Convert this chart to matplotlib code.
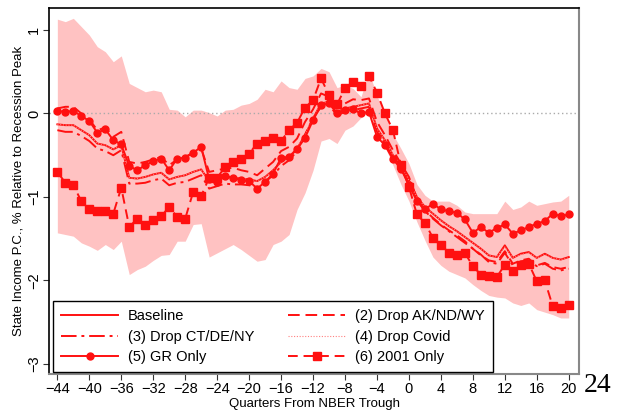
import numpy as np
import matplotlib
matplotlib.use('Agg')
import matplotlib.pyplot as plt

plt.rcParams['font.family'] = ['Liberation Sans', 'DejaVu Sans']

quarters = list(range(-44, 21))

# event-study estimates, quarters -44 .. 20
baseline = [-0.13, -0.14, -0.14, -0.20, -0.26, -0.36, -0.38, -0.43, -0.38, -0.77,
            -0.78, -0.76, -0.73, -0.71, -0.79, -0.76, -0.74, -0.70, -0.67, -0.81,
            -0.78, -0.76, -0.77, -0.78, -0.79, -0.81, -0.76, -0.68, -0.58, -0.52,
            -0.42, -0.26, -0.06, 0.12, 0.14, 0.02, 0.06, 0.08, 0.10, 0.12,
            -0.18, -0.32, -0.50, -0.62, -0.80, -1.00, -1.12, -1.20, -1.28, -1.35,
            -1.41, -1.48, -1.55, -1.62, -1.70, -1.72, -1.58, -1.73, -1.68, -1.66,
            -1.73, -1.68, -1.73, -1.75, -1.72]
drop_ak = [0.06, 0.08, 0.08, 0.00, -0.07, -0.20, -0.17, -0.28, -0.22, -0.58,
           -0.60, -0.58, -0.55, -0.52, -0.62, -0.55, -0.52, -0.47, -0.42, -0.70,
           -0.68, -0.66, -0.65, -0.68, -0.70, -0.74, -0.66, -0.58, -0.45, -0.40,
           -0.30, -0.10, 0.05, 0.24, 0.20, 0.08, 0.12, 0.17, 0.16, 0.18,
           -0.10, -0.26, -0.44, -0.60, -0.76, -1.02, -1.16, -1.25, -1.33, -1.40,
           -1.46, -1.53, -1.62, -1.70, -1.76, -1.78, -1.65, -1.80, -1.76, -1.74,
           -1.82, -1.79, -1.84, -1.86, -1.84]
drop_ct = [-0.20, -0.22, -0.22, -0.27, -0.33, -0.42, -0.45, -0.50, -0.44, -0.84,
           -0.84, -0.83, -0.80, -0.78, -0.86, -0.83, -0.82, -0.78, -0.74, -0.90,
           -0.87, -0.84, -0.85, -0.85, -0.86, -0.88, -0.82, -0.74, -0.63, -0.56,
           -0.45, -0.25, -0.06, 0.08, 0.10, -0.02, 0.02, 0.04, 0.06, 0.08,
           -0.22, -0.36, -0.53, -0.66, -0.84, -1.04, -1.17, -1.26, -1.34, -1.41,
           -1.48, -1.55, -1.62, -1.69, -1.78, -1.80, -1.67, -1.82, -1.77, -1.76,
           -1.83, -1.80, -1.86, -1.88, -1.86]
drop_covid = [-0.13, -0.14, -0.14, -0.20, -0.26, -0.36, -0.38, -0.43, -0.38, -0.77,
              -0.78, -0.76, -0.73, -0.71, -0.79, -0.76, -0.74, -0.70, -0.67, -0.81,
              -0.78, -0.76, -0.77, -0.78, -0.79, -0.81, -0.76, -0.68, -0.58, -0.52,
              -0.42, -0.26, -0.06, 0.12, 0.14, 0.02, 0.06, 0.08, 0.10, 0.12,
              -0.18, -0.32, -0.50, -0.62, -0.80, -1.00, -1.12, -1.20, -1.28, -1.35,
              -1.41, -1.48, -1.55, -1.62, -1.70, -1.72, -1.60, -1.73, -1.69, -1.67,
              -1.73, -1.69, -1.73, -1.75, -1.73]
gr_only = [0.03, 0.02, 0.03, -0.03, -0.09, -0.23, -0.19, -0.32, -0.37, -0.63,
           -0.68, -0.62, -0.57, -0.54, -0.68, -0.54, -0.53, -0.47, -0.40, -0.79,
           -0.82, -0.75, -0.77, -0.80, -0.81, -0.90, -0.82, -0.72, -0.53, -0.52,
           -0.43, -0.29, -0.08, 0.10, 0.12, 0.00, 0.04, 0.05, 0.00, 0.02,
           -0.28, -0.38, -0.55, -0.66, -0.86, -1.05, -1.15, -1.08, -1.15, -1.17,
           -1.19, -1.27, -1.43, -1.36, -1.43, -1.37, -1.33, -1.44, -1.40, -1.36,
           -1.32, -1.29, -1.20, -1.23, -1.21]
only_2001 = [-0.70, -0.83, -0.86, -1.05, -1.14, -1.17, -1.17, -1.20, -0.89, -1.36,
             -1.26, -1.34, -1.28, -1.23, -1.12, -1.24, -1.26, -0.94, -0.99, -0.77,
             -0.77, -0.64, -0.58, -0.55, -0.48, -0.36, -0.33, -0.29, -0.33, -0.20,
             -0.11, 0.07, 0.16, 0.42, 0.22, 0.11, 0.30, 0.38, 0.33, 0.45,
             0.25, 0.00, -0.20, -0.62, -0.88, -1.21, -1.31, -1.49, -1.57, -1.67,
             -1.70, -1.67, -1.83, -1.93, -1.95, -1.96, -1.81, -1.89, -1.82, -1.80,
             -2.01, -2.00, -2.31, -2.33, -2.29]

# confidence band around the baseline
ci_upper = [1.13, 1.10, 1.14, 1.04, 0.94, 0.80, 0.74, 0.62, 0.69, 0.36,
            0.31, 0.26, 0.28, 0.26, 0.05, 0.04, -0.04, 0.04, 0.04, 0.01,
            -0.03, 0.04, 0.05, 0.10, 0.12, 0.17, 0.29, 0.26, 0.39, 0.31,
            0.29, 0.42, 0.45, 0.54, 0.50, 0.31, 0.34, 0.30, 0.20, 0.50,
            0.21, 0.00, -0.25, -0.42, -0.60, -0.85, -0.98, -1.05, -1.05, -1.05,
            -1.10, -1.18, -1.20, -1.20, -1.20, -1.20, -1.05, -1.15, -1.12, -1.05,
            -1.10, -1.08, -1.06, -1.05, -0.98]
ci_lower = [-1.43, -1.45, -1.47, -1.55, -1.59, -1.64, -1.57, -1.63, -1.53, -1.93,
            -1.87, -1.83, -1.76, -1.70, -1.69, -1.53, -1.53, -1.33, -1.32, -1.72,
            -1.67, -1.62, -1.57, -1.63, -1.70, -1.77, -1.75, -1.57, -1.53, -1.45,
            -1.15, -0.95, -0.68, -0.33, -0.30, -0.36, -0.20, -0.15, -0.05, 0.03,
            -0.22, -0.40, -0.62, -0.85, -1.05, -1.30, -1.52, -1.72, -1.82, -1.89,
            -1.93, -1.97, -2.05, -2.12, -2.18, -2.20, -2.21, -2.27, -2.30, -2.27,
            -2.35, -2.38, -2.41, -2.45, -2.45]

red = '#ff1010'

fig = plt.figure(figsize=(6.17, 4.15), dpi=100)
ax = fig.add_axes([0.080, 0.099, 0.858, 0.881])

ax.fill_between(quarters, ci_lower, ci_upper, color='#ffc2c2', lw=0)
ax.axhline(0, color='#aaaaaa', ls=(0, (1, 2)), lw=1)

l1, = ax.plot(quarters, baseline, color=red, lw=1.4, label='Baseline')
l2, = ax.plot(quarters, drop_ak, color=red, lw=1.4, ls=(0, (6, 3)), label='(2) Drop AK/ND/WY')
l3, = ax.plot(quarters, drop_ct, color=red, lw=1.4, ls=(0, (8, 2.5, 1.5, 2.5)),
              label='(3) Drop CT/DE/NY')
l4, = ax.plot(quarters, drop_covid, color='#ff8080', lw=0.8, ls=(0, (1, 1.5)),
              label='(4) Drop Covid')
l5, = ax.plot(quarters, gr_only, color=red, lw=1.4, marker='o', ms=5, label='(5) GR Only')
l6, = ax.plot(quarters, only_2001, color=red, lw=1.4, ls=(0, (5, 3)), marker='s', ms=5.5,
              label='(6) 2001 Only')

ax.set_xlim(-45.0, 21.25)
ax.set_ylim(-3.12, 1.26)
ax.set_xticks(range(-44, 21, 4))
ax.set_yticks([-3, -2, -1, 0, 1])
ax.tick_params(labelsize=10.5, length=4, width=0.8, color='#333333', pad=2)
plt.setp(ax.get_yticklabels(), rotation=90, va='center')

for side in ['top', 'left']:
    ax.spines[side].set_color('black')
    ax.spines[side].set_linewidth(1.2)
for side in ['right', 'bottom']:
    ax.spines[side].set_color('#888888')
    ax.spines[side].set_linewidth(1.5)

ax.set_xlabel('Quarters From NBER Trough', fontsize=9.5, labelpad=1)
ax.set_ylabel('State Income P.C., % Relative to Recession Peak', fontsize=9.5, labelpad=2)

# two columns, filled row by row
handles = [l1, l3, l5, l2, l4, l6]
leg = ax.legend(handles=handles, ncol=2, loc='lower left', bbox_to_anchor=(0.007, 0.004),
                borderaxespad=0, fontsize=10.5, handlelength=3.9, handletextpad=0.7,
                columnspacing=2.3, labelspacing=0.45, borderpad=0.55, fancybox=False,
                framealpha=1, edgecolor='black')
leg.get_frame().set_linewidth(1.0)

fig.text(0.969, 0.072, '24', fontfamily='Liberation Serif', fontsize=20, ha='center', va='center')

plt.savefig('out.png', dpi=100)
